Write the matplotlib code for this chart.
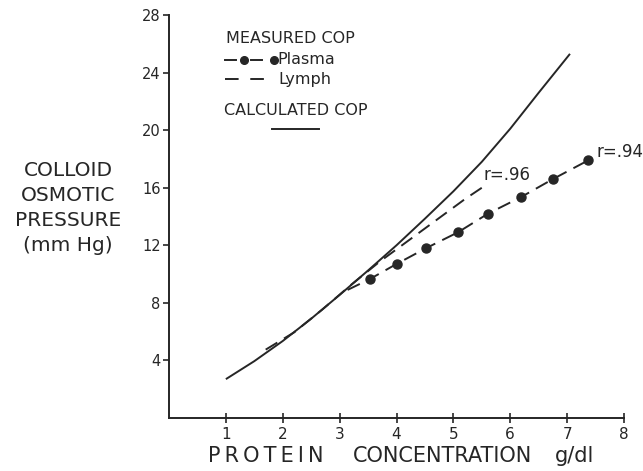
# Colloid osmotic pressure vs protein concentration
import matplotlib
matplotlib.use("Agg")
import matplotlib.pyplot as plt
from matplotlib.lines import Line2D

plt.rcParams['font.family'] = ['DejaVu Sans']

INK = '#262626'

# calculated COP (solid curve)
calc_x = [1.0, 1.5, 2.0, 2.5, 3.0, 3.5, 4.0, 4.5, 5.0, 5.5, 6.0, 6.5, 7.05]
calc_y = [2.7, 3.95, 5.35, 6.9, 8.55, 10.25, 12.0, 13.85, 15.75, 17.8, 20.1, 22.6, 25.3]

# measured lymph COP (dashed)
lymph_x = [1.7, 2.2, 2.7, 3.2, 3.7, 4.2, 4.7, 5.2, 5.52]
lymph_y = [4.75, 5.95, 7.55, 9.25, 10.85, 12.3, 13.75, 15.2, 16.05]

# measured plasma COP (dashed line with dots); line starts before first dot
plasma_start = (3.14, 8.9)
plasma_x = [3.53, 4.0, 4.52, 5.08, 5.61, 6.19, 6.75, 7.37]
plasma_y = [9.65, 10.7, 11.8, 12.9, 14.2, 15.35, 16.6, 17.9]

x_ticks = [1, 2, 3, 4, 5, 6, 7, 8]
y_ticks = [4, 8, 12, 16, 20, 24, 28]


def main():
    fig = plt.figure(figsize=(6.43, 4.71), dpi=100)
    ax = fig.add_axes([169 / 643, 53 / 471, 455 / 643, 403 / 471])

    # curves
    ax.plot(calc_x, calc_y, color=INK, lw=1.4, solid_capstyle='butt')
    ax.plot(lymph_x, lymph_y, color=INK, lw=1.4, dashes=(7, 4))
    px = [plasma_start[0]] + plasma_x
    py = [plasma_start[1]] + plasma_y
    ax.plot(px, py, color=INK, lw=1.4, dashes=(7, 4))
    ax.plot(plasma_x, plasma_y, 'o', color=INK, ms=6.5)

    # r values
    ax.text(5.53, 16.9, 'r=.96', fontsize=12, color=INK, va='center')
    ax.text(7.51, 18.5, 'r=.94', fontsize=12, color=INK, va='center')

    # axes
    ax.set_xlim(0, 8)
    ax.set_ylim(0, 28)
    ax.set_xticks(x_ticks)
    ax.set_yticks(y_ticks)
    for s in ['top', 'right']:
        ax.spines[s].set_visible(False)
    for s in ['left', 'bottom']:
        ax.spines[s].set_color(INK)
        ax.spines[s].set_linewidth(1.4)
    ax.tick_params(axis='x', direction='inout', length=7, width=1.2,
                   colors=INK, labelsize=11, pad=3)
    ax.tick_params(axis='y', direction='out', length=4, width=1.2,
                   colors=INK, labelsize=10.5, pad=2)

    # hand-made key
    tr = ax.transAxes
    ax.text(0.125, 0.942, 'MEASURED COP', transform=tr, fontsize=11.5,
            color=INK, va='center')
    ax.add_line(Line2D([0.123, 0.147], [0.889, 0.889], transform=tr,
                       color=INK, lw=1.4))
    ax.add_line(Line2D([0.18, 0.205], [0.889, 0.889], transform=tr,
                       color=INK, lw=1.4))
    ax.plot([0.165, 0.231], [0.889, 0.889], 'o', transform=tr,
            color=INK, ms=5.5)
    ax.text(0.238, 0.889, 'Plasma', transform=tr, fontsize=11.5,
            color=INK, va='center')
    ax.add_line(Line2D([0.123, 0.233], [0.841, 0.841], transform=tr,
                       color=INK, lw=1.4, dashes=(7, 6)))
    ax.text(0.241, 0.841, 'Lymph', transform=tr, fontsize=11.5,
            color=INK, va='center')
    ax.text(0.12, 0.764, 'CALCULATED COP', transform=tr, fontsize=11.5,
            color=INK, va='center')
    ax.add_line(Line2D([0.226, 0.33], [0.716, 0.716], transform=tr,
                       color=INK, lw=1.4))

    # axis titles
    fig.text(68 / 643, 1 - 208 / 471, 'COLLOID\nOSMOTIC\nPRESSURE\n(mm Hg)',
             fontsize=14.5, color=INK, ha='center', va='center',
             linespacing=1.4)
    ylab = 1 - 456 / 471
    fig.text(266 / 643, ylab, 'P R O T E I N'.replace(' ', '\u2009'),
             fontsize=15, color=INK, ha='center', va='center')
    fig.text(442 / 643, ylab, 'CONCENTRATION', fontsize=15, color=INK,
             ha='center', va='center')
    fig.text(575 / 643, ylab, 'g/dl', fontsize=15, color=INK,
             ha='center', va='center')

    fig.savefig('out.png', dpi=100, facecolor='white')


main()
